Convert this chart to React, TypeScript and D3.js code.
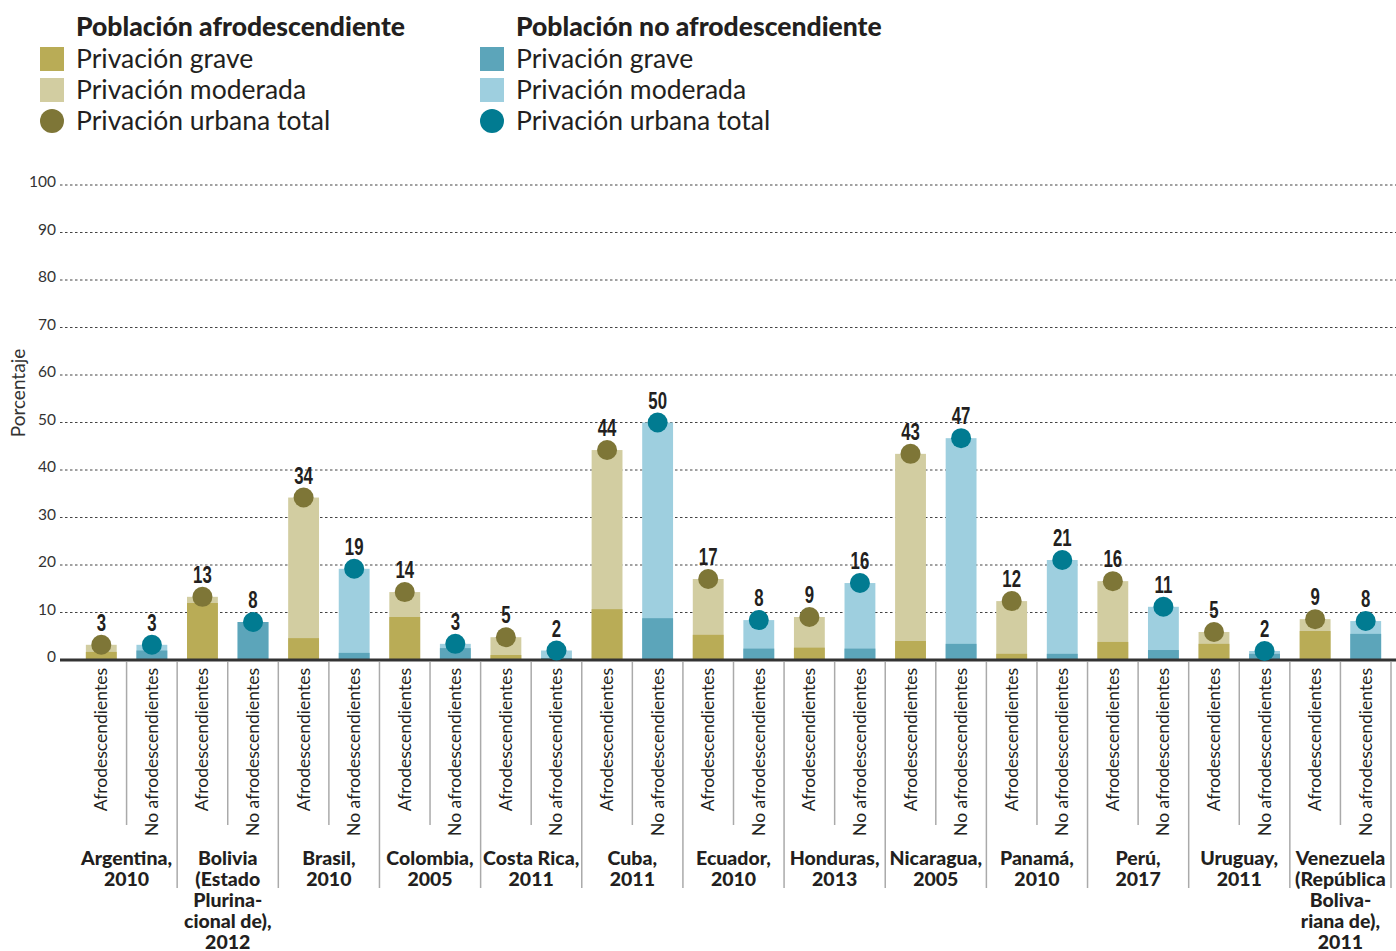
import React from "react";
import * as d3 from "d3";

const countryLines: string[][] = [
  ["Argentina,", "2010"],
  ["Bolivia", "(Estado", "Plurina-", "cional de),", "2012"],
  ["Brasil,", "2010"],
  ["Colombia,", "2005"],
  ["Costa Rica,", "2011"],
  ["Cuba,", "2011"],
  ["Ecuador,", "2010"],
  ["Honduras,", "2013"],
  ["Nicaragua,", "2005"],
  ["Panamá,", "2010"],
  ["Perú,", "2017"],
  ["Uruguay,", "2011"],
  ["Venezuela", "(República", "Boliva-", "riana de),", "2011"],
];

const afroGrave = [1.7, 12.0, 4.6, 9.05, 1.05, 10.7, 5.3, 2.6, 4.0, 1.3, 3.8, 3.4, 6.1];
const afroTotal = [3.2, 13.3, 34.2, 14.3, 4.8, 44.2, 17.05, 9.05, 43.4, 12.4, 16.6, 5.9, 8.6];
const afroLabel = [3, 13, 34, 14, 5, 44, 17, 9, 43, 12, 16, 5, 9];
const noGrave = [2.0, 8.0, 1.5, 2.5, 0.4, 8.8, 2.4, 2.4, 3.4, 1.3, 2.1, 1.3, 5.5];
const noTotal = [3.2, 8.0, 19.2, 3.4, 2.0, 50.0, 8.4, 16.2, 46.7, 21.05, 11.2, 1.9, 8.2];
const noLabel = [3, 8, 19, 3, 2, 50, 8, 16, 47, 21, 11, 2, 8];

const groupNames = ["Afrodescendientes", "No afrodescendientes"];
const yTicks = [0, 10, 20, 30, 40, 50, 60, 70, 80, 90, 100];

const C = {
  afroGrave: "#b9ac56",
  afroMod: "#d2cda1",
  afroDot: "#7e7637",
  noGrave: "#5ca5ba",
  noMod: "#9ecfdf",
  noDot: "#017b91",
};

const legendGroups = [
  { title: "Población afrodescendiente", grave: C.afroGrave, mod: C.afroMod, dot: C.afroDot },
  { title: "Población no afrodescendiente", grave: C.noGrave, mod: C.noMod, dot: C.noDot },
];
const legendItems = ["Privación grave", "Privación moderada", "Privación urbana total"];

export default function App() {
  const W = 1396, H = 951;
  const y = d3.scaleLinear().domain([0, 100]).range([660, 185]);
  const nSlots = countryLines.length * 2;
  const slot = d3.scaleBand<number>().domain(d3.range(nSlots)).range([76, 1391]);
  const step = slot.step();
  const bw = step * 0.61;
  const font = "Lato, 'Open Sans', sans-serif";
  const numFont = "'Liberation Sans', Arial, sans-serif";

  const bars: any[] = [];
  countryLines.forEach((_, i) => {
    bars.push({ idx: i * 2, grave: afroGrave[i], total: afroTotal[i], label: afroLabel[i], cg: C.afroGrave, cm: C.afroMod, cd: C.afroDot, name: groupNames[0] });
    bars.push({ idx: i * 2 + 1, grave: noGrave[i], total: noTotal[i], label: noLabel[i], cg: C.noGrave, cm: C.noMod, cd: C.noDot, name: groupNames[1] });
  });

  const legendX = [40, 480];

  return (
    <svg width={W} height={H} style={{ position: "absolute", left: 0, top: 0, background: "#fff" }} fontFamily={font}>
      {/* Legend */}
      {legendGroups.map((g, gi) => {
        const lx = legendX[gi];
        return (
          <g key={gi}>
            <text x={lx + 36} y={36} fontSize={26.5} fontWeight={900} fill="#231f20">{g.title}</text>
            <rect x={lx} y={47} width={24} height={24} fill={g.grave} />
            <rect x={lx} y={78} width={24} height={24} fill={g.mod} />
            <circle cx={lx + 12} cy={121} r={12} fill={g.dot} />
            {legendItems.map((t, ti) => (
              <text key={ti} x={lx + 36} y={68 + ti * 31} fontSize={26.5} fill="#231f20">{t}</text>
            ))}
          </g>
        );
      })}

      {/* Gridlines and y ticks */}
      {yTicks.map((t) => (
        <g key={t}>
          {t > 0 && (
            <line x1={60} x2={1396} y1={y(t)} y2={y(t)} stroke="#444" strokeWidth={1.2} strokeDasharray="2.5,2.5" />
          )}
          <text x={56} y={y(t) + 2} fontSize={15.5} textAnchor="end" fill="#333">{t}</text>
        </g>
      ))}
      <text transform={`translate(25,393) rotate(-90)`} fontSize={19} textAnchor="middle" fill="#333">Porcentaje</text>

      {/* Bars */}
      {bars.map((b) => {
        const cx = (slot(b.idx) as number) + step / 2;
        return (
          <g key={b.idx}>
            <rect x={cx - bw / 2} y={y(b.total)} width={bw} height={y(0) - y(b.total)} fill={b.cm} />
            <rect x={cx - bw / 2} y={y(b.grave)} width={bw} height={y(0) - y(b.grave)} fill={b.cg} />
          </g>
        );
      })}

      {/* Axis line */}
      <line x1={60} x2={1396} y1={y(0)} y2={y(0)} stroke="#333" strokeWidth={3} />

      {/* Dots and labels */}
      {bars.map((b) => {
        const cx = (slot(b.idx) as number) + step / 2;
        return (
          <g key={"d" + b.idx}>
            <circle cx={cx} cy={y(b.total)} r={10} fill={b.cd} />
            <text transform={`translate(${cx},${y(b.total) - 14}) scale(0.7,1)`} fontSize={24} fontWeight={700} fontFamily={numFont} textAnchor="middle" fill="#231f20">{b.label}</text>
          </g>
        );
      })}

      {/* Separators */}
      {d3.range(1, nSlots + 1).map((k) => {
        const x = 76 + k * step;
        const long = k % 2 === 0;
        return <line key={"s" + k} x1={x} x2={x} y1={662} y2={long ? 888 : 825} stroke="#aaa" strokeWidth={1.5} />;
      })}

      {/* Rotated sub labels */}
      {bars.map((b) => {
        const cx = (slot(b.idx) as number) + step / 2;
        return (
          <text key={"l" + b.idx} transform={`translate(${cx + 6},668) rotate(-90)`} fontSize={17.5} textAnchor="end" fill="#231f20">{b.name}</text>
        );
      })}

      {/* Country labels */}
      {countryLines.map((lines, i) => {
        const cx = 76 + (i * 2 + 1) * step;
        return (
          <text key={"c" + i} x={cx} fontSize={19.5} fontWeight={900} textAnchor="middle" fill="#231f20">
            {lines.map((ln, li) => (
              <tspan key={li} x={cx} y={865 + li * 21}>{ln}</tspan>
            ))}
          </text>
        );
      })}
    </svg>
  );
}
